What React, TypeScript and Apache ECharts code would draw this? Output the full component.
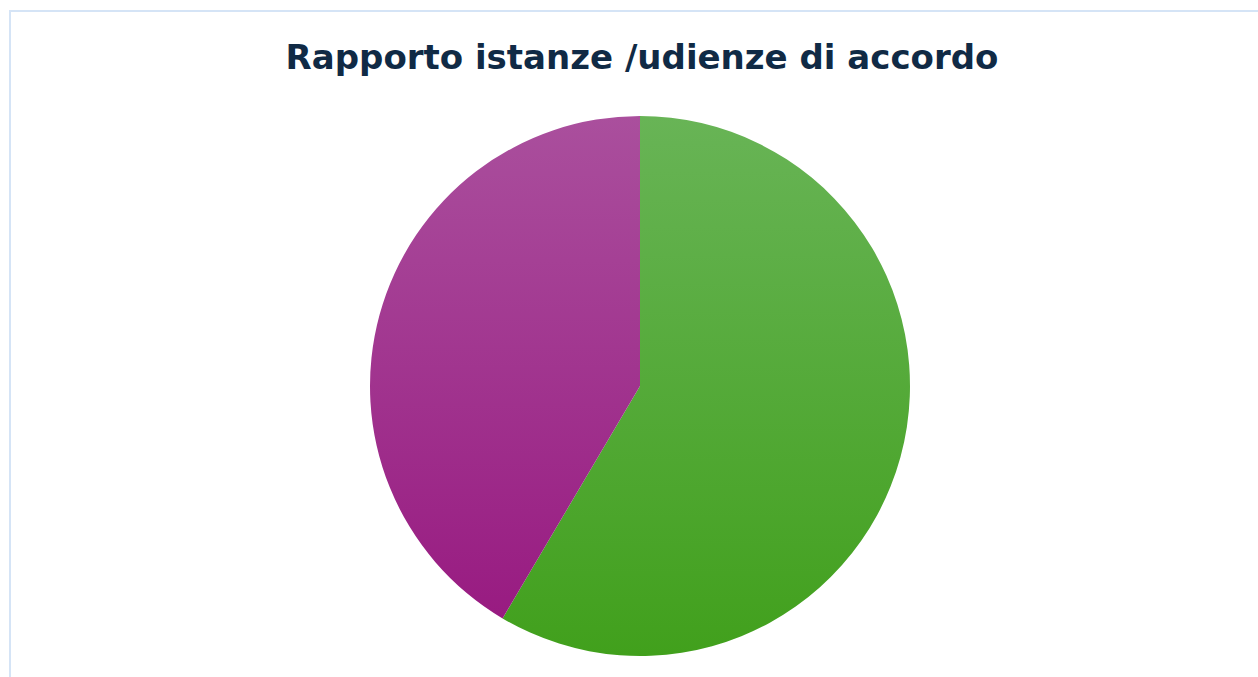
import React, { useEffect, useRef } from "react";
import * as echarts from "echarts";

const titleText = "Rapporto istanze /udienze di accordo";
const categories = ["Istanze", "Udienze di accordo"];
const values = [58.5, 41.5];
const gradientTops = ["#68b456", "#aa4f9d"];
const gradientBottoms = ["#41a01c", "#97177f"];

export default function App() {
  const ref = useRef<HTMLDivElement>(null);
  useEffect(() => {
    if (!ref.current) return;
    const chart = echarts.init(ref.current, undefined, { renderer: "svg" });
    chart.setOption({
      animation: false,
      backgroundColor: "#ffffff",
      title: {
        text: titleText,
        left: 637,
        textAlign: "center",
        top: 35,
        textStyle: {
          fontFamily: "DejaVu Sans, sans-serif",
          fontWeight: "bold",
          fontSize: 34,
          color: "#102a45",
        },
      },
      graphic: [
        {
          type: "rect",
          shape: { x: 10, y: 11, width: 1400, height: 900 },
          style: { fill: "none", stroke: "#d5e4f6", lineWidth: 2 },
          silent: true,
        },
      ],
      series: [
        {
          type: "pie",
          center: [640, 386],
          radius: 270,
          startAngle: 90,
          clockwise: true,
          label: { show: false },
          labelLine: { show: false },
          itemStyle: { borderWidth: 0 },
          emphasis: { disabled: true },
          data: categories.map((name, i) => ({
            name,
            value: values[i],
            itemStyle: {
              color: {
                type: "linear",
                x: 0,
                y: 116,
                x2: 0,
                y2: 656,
                global: true,
                colorStops: [
                  { offset: 0, color: gradientTops[i] },
                  { offset: 1, color: gradientBottoms[i] },
                ],
              },
            },
          })),
        },
      ],
    });
    return () => chart.dispose();
  }, []);
  return (
    <div
      ref={ref}
      style={{ position: "fixed", left: 0, top: 0, width: 1258, height: 677 }}
    />
  );
}
